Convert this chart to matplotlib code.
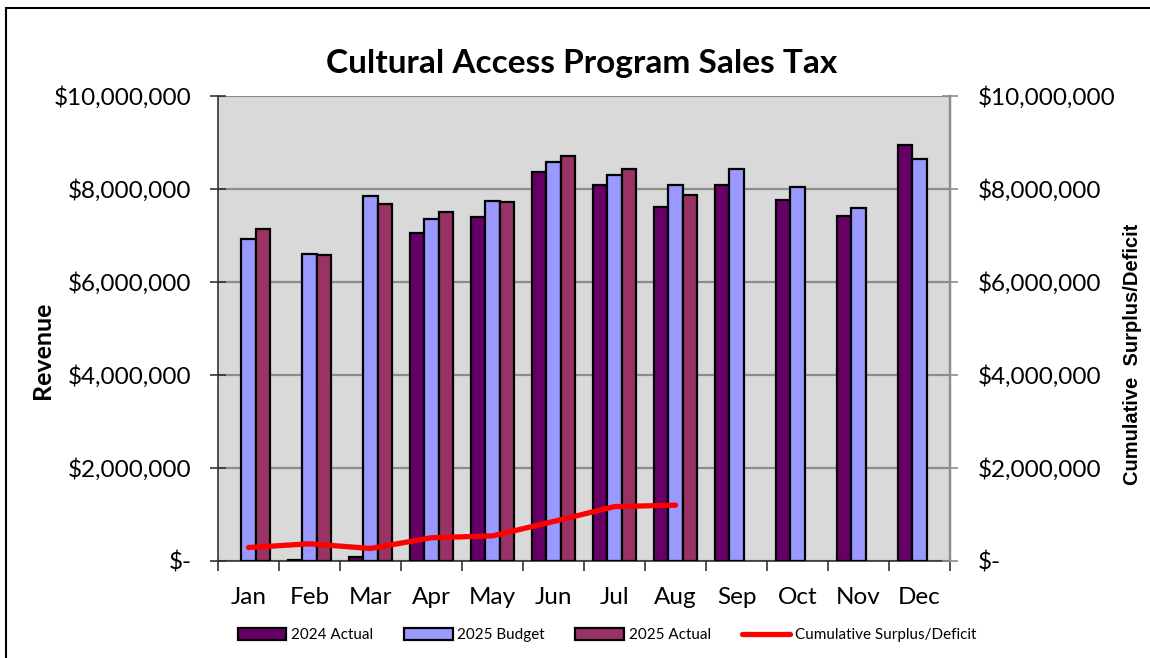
import numpy as np
import matplotlib
matplotlib.use("Agg")
from matplotlib import pyplot as plt
from matplotlib.patches import Rectangle
from matplotlib.ticker import FuncFormatter

plt.rcParams['font.family'] = ['Lato', 'DejaVu Sans']

months = ["Jan", "Feb", "Mar", "Apr", "May", "Jun", "Jul", "Aug", "Sep", "Oct", "Nov", "Dec"]
# 2024 Actual (Jan not shown)
actual_2024 = [np.nan, 20000, 80000, 7050000, 7400000, 8370000, 8090000, 7620000,
               8090000, 7760000, 7430000, 8950000]
budget_2025 = [6930000, 6610000, 7840000, 7350000, 7740000, 8570000, 8310000, 8080000,
               8420000, 8040000, 7600000, 8650000]
actual_2025 = [7150000, 6580000, 7680000, 7510000, 7710000, 8700000, 8420000, 7870000,
               np.nan, np.nan, np.nan, np.nan]
cumulative = [290000, 370000, 270000, 500000, 540000, 850000, 1170000, 1200000]

c_2024 = "#660066"
c_budget = "#9999FF"
c_2025 = "#993366"

fig = plt.figure(figsize=(11.5, 6.58), dpi=100)
ax = fig.add_axes([218/1150, 97/658, (950-218)/1150, (561-96)/658])
ax.set_facecolor("#D9D9D9")

x = np.arange(len(months))
w = 0.23
bar_kw = dict(width=w, edgecolor="black", linewidth=1.6, zorder=3)
b1 = ax.bar(x - w, actual_2024, color=c_2024, label="2024 Actual", **bar_kw)
b2 = ax.bar(x, budget_2025, color=c_budget, label="2025 Budget", **bar_kw)
b3 = ax.bar(x + w, actual_2025, color=c_2025, label="2025 Actual", **bar_kw)

ax.set_xlim(-0.5, 11.5)
ax.set_ylim(0, 10000000)
ax.set_yticks(np.arange(0, 10000001, 2000000))

def money(v, pos):
    if v == 0:
        return "$-"
    return "${:,.0f}".format(v)

ax.yaxis.set_major_formatter(FuncFormatter(money))
ax.grid(axis="y", color="#8C8C8C", linewidth=1.6, zorder=0)
ax.set_axisbelow(True)

ax.set_xticks(x)
ax.set_xticklabels(months, fontsize=17.5)
ax.set_xticks(np.arange(-0.5, 12, 1), minor=True)
ax.tick_params(axis="x", which="major", length=0, pad=19)
ax.tick_params(axis="x", which="minor", length=7, width=1.2, color="#333333", direction="out")
ax.tick_params(axis="y", length=12, width=1.2, direction="inout", labelsize=17.5, pad=13,
               color="#333333")

ax.spines["top"].set_visible(False)
ax.spines["left"].set_color("#333333")
ax.spines["left"].set_linewidth(1.2)
ax.spines["bottom"].set_color("#333333")
ax.spines["bottom"].set_linewidth(1.2)
ax.spines["right"].set_color("#8C8C8C")
ax.spines["right"].set_linewidth(1.6)

ax2 = ax.twinx()
ax2.set_ylim(0, 10000000)
ax2.set_yticks(np.arange(0, 10000001, 2000000))
ax2.yaxis.set_major_formatter(FuncFormatter(money))
ax2.tick_params(axis="y", length=12, width=1.2, direction="inout", labelsize=17.5, pad=14,
                color="#8C8C8C")
for s in ["top", "left", "bottom"]:
    ax2.spines[s].set_visible(False)
ax2.spines["right"].set_color("#8C8C8C")
ax2.spines["right"].set_linewidth(1.6)
ln, = ax2.plot(x[:len(cumulative)], cumulative, color="#FF0000", linewidth=3.8,
               solid_capstyle="round", solid_joinstyle="round",
               label="Cumulative Surplus/Deficit", zorder=5)

fig.text(42/1150, 1 - 350/658, "Revenue", rotation=90, ha="center", va="center",
         fontsize=18, fontweight="bold")
fig.text(1132/1150, 1 - 354/658, "Cumulative  Surplus/Deficit", rotation=90, ha="center",
         va="center", fontsize=14.5, fontweight="bold",
         family=["Liberation Sans", "DejaVu Sans"])

fig.text(582/1150, 1 - 63/658, "Cultural Access Program Sales Tax", ha="center", va="center",
         fontsize=24, fontweight="bold")

leg = fig.legend(handles=[b1, b2, b3, ln], loc="center", bbox_to_anchor=(607/1150, 1 - 635/658),
                 ncol=4, frameon=False, fontsize=11, handlelength=3.2, handleheight=0.8,
                 columnspacing=2.0, handletextpad=0.3)

fig.patches.append(Rectangle((6/1150, -0.1), 1.2, (658-8)/658 + 0.1, transform=fig.transFigure,
                             fill=False, edgecolor="black", linewidth=1.5))

fig.savefig("out.png", dpi=100)
